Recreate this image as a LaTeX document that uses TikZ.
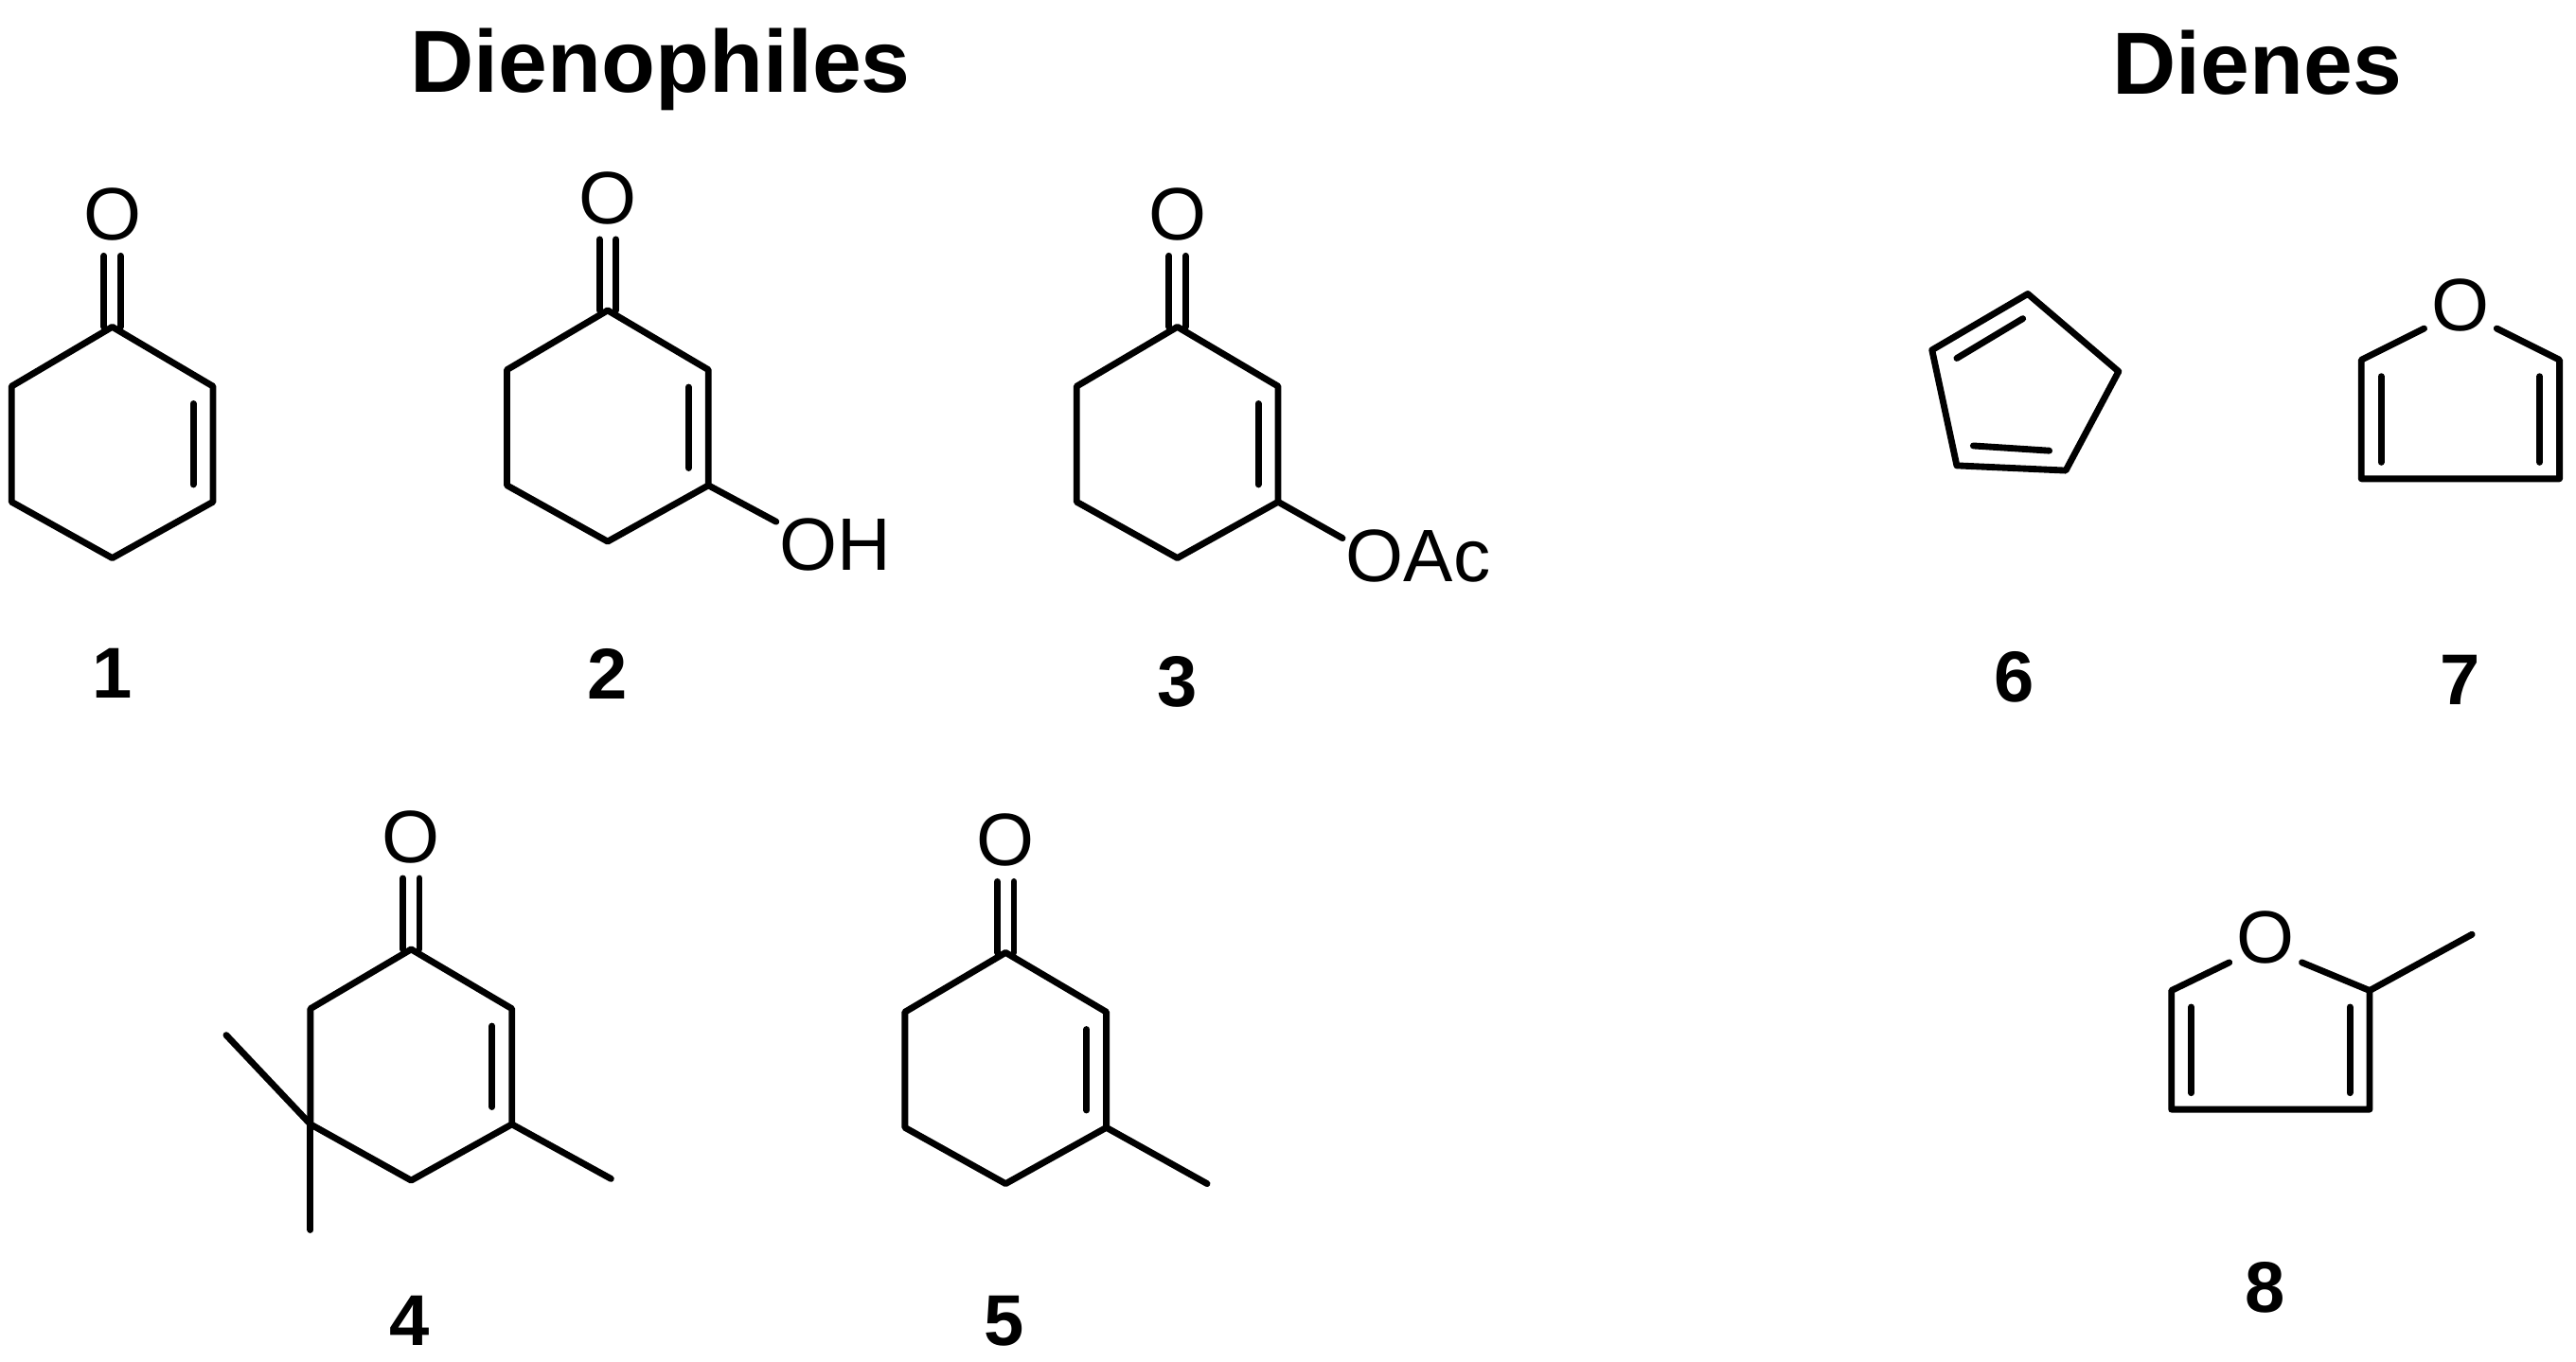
\documentclass[tikz,border=0pt]{standalone}
\usepackage{fontspec}
\setmainfont{Liberation Sans}
\usetikzlibrary{calc}
\tikzset{bond/.style={line width=5.6pt,line cap=round,line join=round},
 atom/.style={inner sep=0pt,font=\fontsize{64}{68}\selectfont},
 lbl/.style={inner sep=0pt,font=\fontsize{62}{66}\selectfont\bfseries},
 ttl/.style={inner sep=0pt,font=\fontsize{76}{80}\selectfont\bfseries}}
\newcommand\hexring[3]{%
 \coordinate (#1a) at (#2,#3);
 \coordinate (#1b) at (#2+61,#3+36);
 \coordinate (#1c) at (#2+61,#3+106);
 \coordinate (#1d) at (#2,#3+140);
 \coordinate (#1e) at (#2-61,#3+106);
 \coordinate (#1f) at (#2-61,#3+36);
 \draw[bond] (#1a)--(#1b)--(#1c)--(#1d)--(#1e)--(#1f)--cycle;
 \draw[bond] ($(#1b)!0.15!(#1c)+(-12,0)$)--($(#1b)!0.85!(#1c)+(-12,0)$);
 \coordinate (#1o) at (#2,#3-43);
 \draw[bond] ($(#1a)+(-5,0)$)--($(#1o)+(-5,0)$);
 \draw[bond] ($(#1a)+(5,0)$)--($(#1o)+(5,0)$);
 \node[atom] (#1O) at (#2,#3-68) {O};}
\begin{document}
\begin{tikzpicture}[x=0.05cm,y=-0.05cm]
\useasboundingbox (0,0) rectangle (1560,825);
\node[ttl] (t1) at (400,42) {Dienophiles};
\node[ttl] (t2) at (1367,38) {Dienes};
% 1
\hexring{m1}{68}{198}
\node[lbl] (l1) at (68,408) {1};
% 2
\hexring{m2}{368}{188}
\node[atom,anchor=west] (oh) at (472,330) {OH};
\coordinate (oh1) at (470,316);
\draw[bond] (m2c)--(oh1);
\node[lbl] (l2) at (368,408) {2};
% 3
\hexring{m3}{713}{198}
\node[atom,anchor=west] (oac) at (815,337) {OAc};
\coordinate (oa1) at (813,326);
\draw[bond] (m3c)--(oa1);
\node[lbl] (l3) at (713,413) {3};
% 4
\hexring{m4}{249}{575}
\coordinate (me4a) at (370,714);
\coordinate (me4b) at (137,627);
\coordinate (me4c) at (188,745);
\draw[bond] (m4c)--(me4a);
\draw[bond] (m4e)--(me4b);
\draw[bond] (m4e)--(me4c);
\node[lbl] (l4) at (248,800) {4};
% 5
\hexring{m5}{609}{577}
\coordinate (me5) at (731,717);
\draw[bond] (m5c)--(me5);
\node[lbl] (l5) at (608,800) {5};
% 6 cyclopentadiene
\coordinate (c1) at (1228,178);
\coordinate (c2) at (1283,225);
\coordinate (c3) at (1251,285);
\coordinate (c4) at (1185,282);
\coordinate (c5) at (1170,212);
\draw[bond] (c1)--(c2)--(c3)--(c4)--(c5)--cycle;
\draw[bond] (1185,217)--(1225,193);
\draw[bond] (1195,270)--(1241,273);
\node[lbl] (l6) at (1220,410) {6};
% 7 furan
\node[atom] (o7) at (1490,185) {O};
\coordinate (f1) at (1550,218);
\coordinate (f2) at (1550,290);
\coordinate (f3) at (1430,290);
\coordinate (f4) at (1430,218);
\draw[bond] (1512,199)--(f1)--(f2)--(f3)--(f4)--(1468,199);
\draw[bond] (1538,228)--(1538,280);
\draw[bond] (1442,228)--(1442,280);
\node[lbl] (l7) at (1490,412) {7};
% 8 methylfuran
\node[atom] (o8) at (1372,568) {O};
\coordinate (g1) at (1435,600);
\coordinate (g2) at (1435,672);
\coordinate (g3) at (1315,672);
\coordinate (g4) at (1315,600);
\coordinate (gm) at (1497,566);
\draw[bond] (1394,583)--(g1)--(g2)--(g3)--(g4)--(1350,583);
\draw[bond] (g1)--(gm);
\draw[bond] (1423,610)--(1423,662);
\draw[bond] (1327,610)--(1327,662);
\node[lbl] (l8) at (1372,780) {8};
\end{tikzpicture}
\end{document}
